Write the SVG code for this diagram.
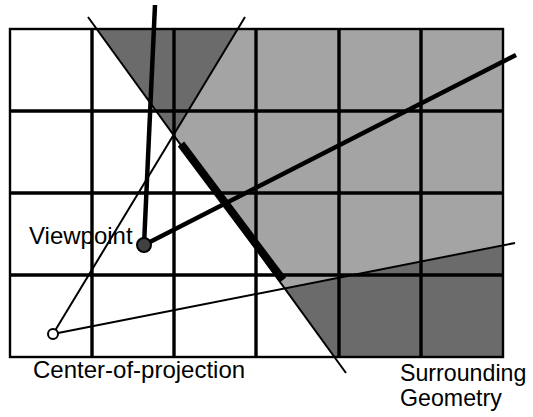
<svg xmlns="http://www.w3.org/2000/svg" width="533" height="417" viewBox="0 0 533 417">
<style>
.dark{fill:#6b6b6b}
.light{fill:#a4a4a4}
.grid{stroke:#000;stroke-width:3.4;fill:none}
.border{stroke:#000;stroke-width:2.4;fill:none}
.thin{stroke:#000;stroke-width:2;fill:none}
.thick{stroke:#000;stroke-width:4.5;fill:none}
.wall{stroke:#000;stroke-width:8;fill:none}
.lbl{font-family:"Liberation Sans",Arial,sans-serif;font-size:24px;fill:#000}
.lbl2{font-family:"Liberation Sans",Arial,sans-serif;font-size:23.2px;fill:#000}
</style>
<g id="shading">
<polygon class="dark" points="96.7,29 237.8,29 173.5,135"/>
<polygon class="light" points="237.8,29 503,29 503,246 284.6,288.4 173.5,135"/>
<polygon class="dark" points="284.6,288.4 503,246 503,357 334.4,357"/>
</g>
<g id="grid">
<rect class="border" x="10" y="29" width="493" height="328"/>
<path class="grid" d="M92,29V357M174,29V357M256,29V357M339,29V357M421,29V357M10,111H503M10,193H503M10,275H503"/>
</g>
<g id="connectors">
<line class="thin" x1="88" y1="17" x2="346" y2="373"/>
<line class="thin" x1="53" y1="334" x2="245" y2="17"/>
<line class="thin" x1="53" y1="334" x2="515" y2="243"/>
<line class="thick" x1="155" y1="5" x2="144" y2="245"/>
<line class="thick" x1="144" y1="245" x2="516" y2="55"/>
<line class="wall" x1="181" y1="144" x2="283" y2="280"/>
</g>
<g id="viewpoint">
<circle cx="144" cy="245" r="7" fill="#404040" stroke="#000" stroke-width="2"/>
<text class="lbl" x="29" y="243.5">Viewpoint</text>
</g>
<g id="center-of-projection">
<circle cx="53" cy="334" r="5" fill="#fff" stroke="#000" stroke-width="2"/>
<text class="lbl" x="33" y="378">Center-of-projection</text>
</g>
<g id="surrounding-geometry">
<text class="lbl2" x="400" y="381">Surrounding</text>
<text class="lbl2" x="400" y="405.5">Geometry</text>
</g>
</svg>
